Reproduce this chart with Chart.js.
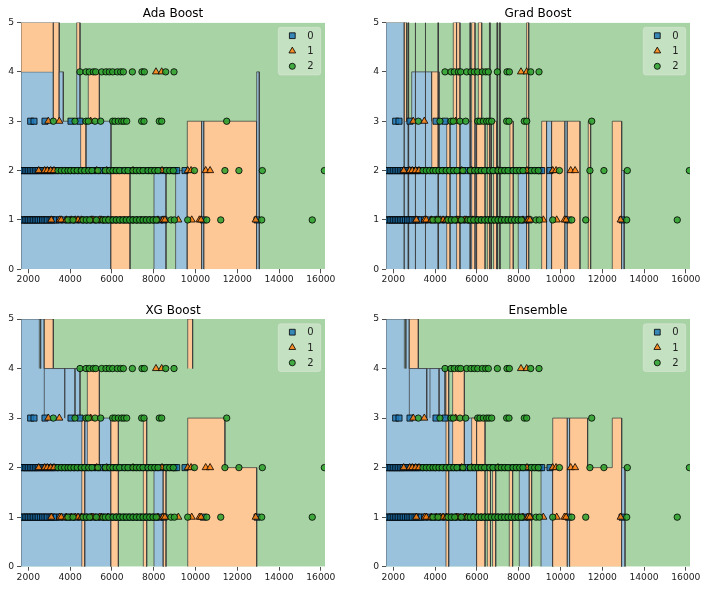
<!DOCTYPE html>
<html>
<head>
<meta charset="utf-8">
<script src="https://cdn.jsdelivr.net/npm/chart.js@4.4.0/dist/chart.umd.min.js"></script>
<style>
body { margin: 0; background: #fff; }
#wrap { position: relative; width: 708px; height: 590px; }
.cell { position: absolute; width: 354px; height: 295px; }
</style>
</head>
<body>
<div id="wrap">
  <div class="cell" style="left:0;top:0"><canvas id="c0"></canvas></div>
  <div class="cell" style="left:354px;top:0"><canvas id="c1"></canvas></div>
  <div class="cell" style="left:0;top:295px"><canvas id="c2"></canvas></div>
  <div class="cell" style="left:354px;top:295px"><canvas id="c3"></canvas></div>
</div>
<script>
const titles = ["Ada Boost", "Grad Boost", "XG Boost", "Ensemble"];
const classLabels = ["0", "1", "2"];
const xTicks = [2000, 4000, 6000, 8000, 10000, 12000, 14000, 16000];
const yTicks = [0, 1, 2, 3, 4, 5];
const xLimits = [1650, 16200];
const yLimits = [0, 5];

// class 0 (squares), x values on rows y=1, 2, 3
const sqRow1 = [1700, 1780, 1860, 1940, 2020, 2100, 2180, 2260, 2340, 2420, 2500, 2590, 2680, 2760, 2850, 2930, 3040, 3130, 3220, 3340,
  3500, 3700, 3900, 4100, 4300, 4500, 4700, 4900, 5100, 5300, 5500, 5700, 5900, 6100, 6300, 6500, 6700, 6900, 7100, 7300, 7500, 7700, 7900, 8100, 8300, 8500,
  10375, 12950];
const sqRow2 = [1700, 1780, 1860, 1940, 2020, 2100, 2180, 2260, 2340, 2420, 2500, 2600, 2700, 2800, 2900, 3000, 3100, 3200, 3300,
  3500, 3700, 3900, 4100, 4300, 4500, 4700, 4900, 5100, 5300, 5500, 5700, 5900, 6200, 6500, 6800, 7100, 7400, 7700, 8000, 8300, 8600, 8900, 9000, 9100,
  9500];
const sqRow3 = [2114, 2272, 2799, 4043, 4474];

// class 1 (triangles), rows y=1..4
const triRow1 = [3100, 3500, 3580, 3820, 4060, 4250, 4380, 4535, 5015, 5095, 5415, 5490, 5810, 8205, 8445, 8540, 9180, 9820, 10190, 10270, 12880];
const triRow2 = [2497, 2785, 2910, 3070, 3230, 5272, 5750, 7010, 8400, 9630, 9790, 10490, 10700];
const triRow3 = [2957, 3484, 4984];
const triRow4 = [8111, 8384];

// class 2 (circles), rows y=1..4
const dotRow1 = [3900, 4140, 4620, 4775, 4940, 5255, 5575, 5685, 5850, 6053, 6210, 6370, 6530, 6690, 6850, 7010, 7170, 7330, 7490, 7650, 7810, 7970, 8125,
  8830, 8990, 9630, 10540, 11210, 13170, 15590];
const dotRow2 = [3421, 3580, 3741, 3900, 4030, 4186, 4345, 4536, 4700, 4890, 5048, 5335, 5685, 5895, 6053, 6210, 6370, 6613, 6770, 7010, 7170, 7330, 7490,
  7730, 7885, 8050, 8207, 8605, 8767, 8940, 9950, 11410, 12080, 13200, 16170];
const dotRow3 = [3197, 4234, 4761, 4872, 5192, 5464, 6038, 6149, 6309, 6468, 6580, 6708, 7425, 7537, 8270, 8384, 11495];
const dotRow4 = [4474, 4761, 4920, 5112, 5225, 5512, 5718, 5878, 6038, 6260, 6420, 6548, 6980, 7441, 7553, 8575, 8973];

// decision regions: [class, base y, x edges, top y per interval]; class 2 fills the rest
const adaRegions = [
  [0, 0, [1650, 3200, 5958], [4, 3]],
  [1, 4, [1650, 3200], [5]],
  [1, 3, [3200, 3480], [5]],
  [0, 3, [3480, 3675], [4]],
  [1, 4, [4316, 4474], [5]],
  [0, 3, [4316, 4474], [4]],
  [1, 2, [4505, 4760], [3]],
  [1, 3, [4870, 5400], [4]],
  [1, 0, [5958, 6867], [2]],
  [0, 0, [8015, 8590], [2]],
  [0, 0, [9050, 9610], [2]],
  [1, 0, [9610, 10300], [3]],
  [0, 0, [10300, 10410], [3]],
  [1, 0, [10410, 12930], [3]],
  [0, 0, [12930, 13055], [4]]
];
const gradRegions = [
  [0, 0, [1650, 2527], [5]],
  [0, 0, [2527, 2880, 3840, 5990], [3, 4, 3]],
  [1, 3, [2527, 2640], [5]],
  [1, 0, [2700, 2730], [5]],
  [1, 0, [3040, 3070], [5]],
  [1, 0, [3520, 3550], [5]],
  [1, 2, [3840, 4190], [4]],
  [1, 0, [4130, 4160], [5]],
  [1, 0, [4555, 4715], [3]],
  [1, 3, [4870, 5030], [5]],
  [1, 0, [5030, 5190], [5]],
  [1, 0, [5660, 5690], [5]],
  [1, 0, [5750, 5910], [5]],
  [1, 0, [5990, 6390], [3]],
  [1, 3, [6070, 6230], [5]],
  [1, 0, [6500, 6700], [3]],
  [2, 0, [6600, 6630], [5]],
  [1, 0, [6800, 6950], [3]],
  [2, 0, [6950, 6990], [5]],
  [1, 0, [7080, 7110], [5]],
  [1, 0, [7580, 7740], [3]],
  [0, 0, [7980, 8380], [2]],
  [1, 0, [8380, 8480], [5]],
  [1, 0, [9100, 9340], [3]],
  [0, 0, [9340, 9580], [3]],
  [1, 0, [9580, 10220], [3]],
  [0, 0, [10220, 10330], [3]],
  [1, 0, [10330, 10935], [3]],
  [1, 0, [11330, 11445], [3]],
  [1, 0, [12480, 12930], [3]],
  [0, 0, [12930, 13050], [2]]
];
const xgRegions = [
  [0, 0, [1650, 2765, 4474, 5958], [5, 4, 3]],
  [2, 4, [2527, 2590], [5]],
  [1, 4, [2765, 3197], [5]],
  [0, 3, [2765, 3756], [4]],
  [0, 3, [3756, 4234], [4]],
  [1, 0, [4560, 4700], [3]],
  [1, 2, [4825, 5400], [4]],
  [1, 0, [5958, 6310], [3]],
  [1, 0, [7505, 7665], [3]],
  [0, 0, [8015, 8460], [2]],
  [1, 0, [8460, 8590], [2]],
  [1, 0, [9630, 11410, 12930], [3, 2]],
  [1, 4, [9630, 9865], [5]]
];
const ensRegions = [
  [0, 0, [1650, 2767, 4474, 5990], [5, 4, 3]],
  [2, 4, [2527, 2600], [5]],
  [1, 4, [2767, 3197], [5]],
  [0, 3, [2767, 3600], [4]],
  [0, 3, [3755, 4190], [4]],
  [1, 0, [4520, 4650], [4]],
  [1, 2, [4840, 5400], [4]],
  [1, 2, [5750, 5990], [3]],
  [1, 0, [5990, 6390], [3]],
  [1, 0, [6500, 6650], [2]],
  [1, 0, [6750, 6900], [2]],
  [1, 0, [7550, 7710], [2]],
  [0, 0, [8030, 8510], [2]],
  [1, 0, [8510, 8620], [2]],
  [0, 0, [9070, 9630], [2]],
  [1, 0, [9630, 10330], [3]],
  [0, 0, [10330, 10440], [3]],
  [1, 0, [10440, 11300, 12480, 12930], [3, 2, 3]],
  [0, 0, [12930, 13090], [2]]
];

const allRegions = [adaRegions, gradRegions, xgRegions, ensRegions];
const markRows = [[sqRow1, sqRow2, sqRow3], [triRow1, triRow2, triRow3, triRow4], [dotRow1, dotRow2, dotRow3, dotRow4]];

// styles
const fillColors = ["#9ac2dd", "#fec796", "#a8d3a4"];
const markColors = ["rgba(31,119,180,0.85)", "rgba(255,127,14,0.85)", "rgba(44,160,44,0.85)"];
const markStyles = ["rect", "triangle", "circle"];
const markRadius = [4.3, 4.1, 3.2];
const edgeColor = "rgba(55,55,55,0.7)";
const cellLayout = [
  {left: 0, right: 29, top: 22.5, xh: 25.7},
  {left: 11, right: 18, top: 22.5, xh: 25.7},
  {left: 0, right: 29, top: 24, xh: 23.3},
  {left: 11, right: 18, top: 24, xh: 23.3}
];

Chart.defaults.font.family = "'DejaVu Sans', sans-serif";

function stepOutline(edges, tops, base) {
  const pts = [{x: edges[0], y: base}];
  for (let i = 0; i < tops.length; i++) {
    pts.push({x: edges[i], y: tops[i]});
    pts.push({x: edges[i + 1], y: tops[i]});
  }
  pts.push({x: edges[edges.length - 1], y: base});
  return pts;
}

function buildDatasets(regions) {
  const ds = [{
    type: "line",
    data: stepOutline(xLimits, [yLimits[1]], yLimits[0]),
    backgroundColor: fillColors[2],
    borderColor: "transparent",
    borderWidth: 0,
    fill: {value: yLimits[0]},
    pointRadius: 0,
    order: 1000
  }];
  regions.forEach((r, i) => {
    const [cls, base, edges, tops] = r;
    ds.push({
      type: "line",
      data: stepOutline(edges, tops, base),
      backgroundColor: fillColors[cls],
      borderColor: edgeColor,
      borderWidth: 1,
      fill: {value: base},
      pointRadius: 0,
      tension: 0,
      order: 900 - i
    });
  });
  markRows.forEach((levels, cls) => {
    const data = [];
    levels.forEach((xs, k) => xs.forEach(x => data.push({x: x, y: k + 1})));
    ds.push({
      type: "scatter",
      label: classLabels[cls],
      data: data,
      pointStyle: markStyles[cls],
      pointRadius: markRadius[cls],
      backgroundColor: markColors[cls],
      borderColor: "rgba(0,0,0,0.8)",
      borderWidth: 1,
      order: 3 - cls
    });
  });
  return ds;
}

// title above the plot and the small legend box in the upper right
const decorPlugin = {
  id: "decor",
  afterDraw(chart, args, opts) {
    const ctx = chart.ctx;
    const a = chart.chartArea;
    ctx.save();
    ctx.font = "12px 'DejaVu Sans'";
    ctx.fillStyle = "#000";
    ctx.textAlign = "center";
    ctx.textBaseline = "alphabetic";
    ctx.fillText(opts.title, (a.left + a.right) / 2, a.top - 5.2);

    const bx = a.right - 46.7, by = a.top + 4.8, bw = 42.4, bh = 47.7;
    ctx.beginPath();
    ctx.roundRect(bx, by, bw, bh, 2.5);
    ctx.fillStyle = "rgba(255,255,255,0.32)";
    ctx.fill();
    ctx.strokeStyle = "rgba(235,235,235,0.4)";
    ctx.lineWidth = 1;
    ctx.stroke();

    classLabels.forEach((lab, i) => {
      const y = a.top + 13.2 + i * 15.3;
      ctx.fillStyle = markColors[i];
      ctx.strokeStyle = "rgba(0,0,0,0.8)";
      ctx.lineWidth = 1;
      Chart.helpers.drawPoint(ctx, {pointStyle: markStyles[i], radius: markRadius[i] * 0.95, borderWidth: 1, rotation: 0}, a.right - 32.7, y);
      ctx.fillStyle = "#222";
      ctx.font = "10px 'DejaVu Sans'";
      ctx.textAlign = "center";
      ctx.textBaseline = "middle";
      ctx.fillText(lab, a.right - 14.5, y + 0.5);
    });
    ctx.restore();
  }
};

titles.forEach((title, idx) => {
  const lay = cellLayout[idx];
  new Chart(document.getElementById("c" + idx), {
    type: "scatter",
    data: {datasets: buildDatasets(allRegions[idx])},
    plugins: [decorPlugin],
    options: {
      responsive: true,
      maintainAspectRatio: false,
      animation: false,
      events: [],
      layout: {padding: {left: lay.left, right: lay.right, top: lay.top, bottom: 0}},
      plugins: {
        legend: {display: false},
        tooltip: {enabled: false},
        title: {display: false},
        decor: {title: title}
      },
      scales: {
        x: {
          type: "linear",
          min: xLimits[0],
          max: xLimits[1],
          afterBuildTicks: s => { s.ticks = xTicks.map(v => ({value: v})); },
          afterFit: s => { s.height = lay.xh; },
          ticks: {callback: v => String(v), font: {size: 9.2}, color: "#222", padding: 1, maxRotation: 0, autoSkip: false},
          grid: {drawOnChartArea: false, drawTicks: true, tickLength: 4, tickColor: "#222", tickWidth: 0.8},
          border: {display: false}
        },
        y: {
          type: "linear",
          min: yLimits[0],
          max: yLimits[1],
          afterBuildTicks: s => { s.ticks = yTicks.map(v => ({value: v})); },
          afterFit: s => { s.width = 21; },
          ticks: {callback: v => String(v), font: {size: 9.2}, color: "#222", padding: 3},
          grid: {drawOnChartArea: false, drawTicks: true, tickLength: 4, tickColor: "#222", tickWidth: 0.8},
          border: {display: false}
        }
      }
    }
  });
});
</script>
</body>
</html>
